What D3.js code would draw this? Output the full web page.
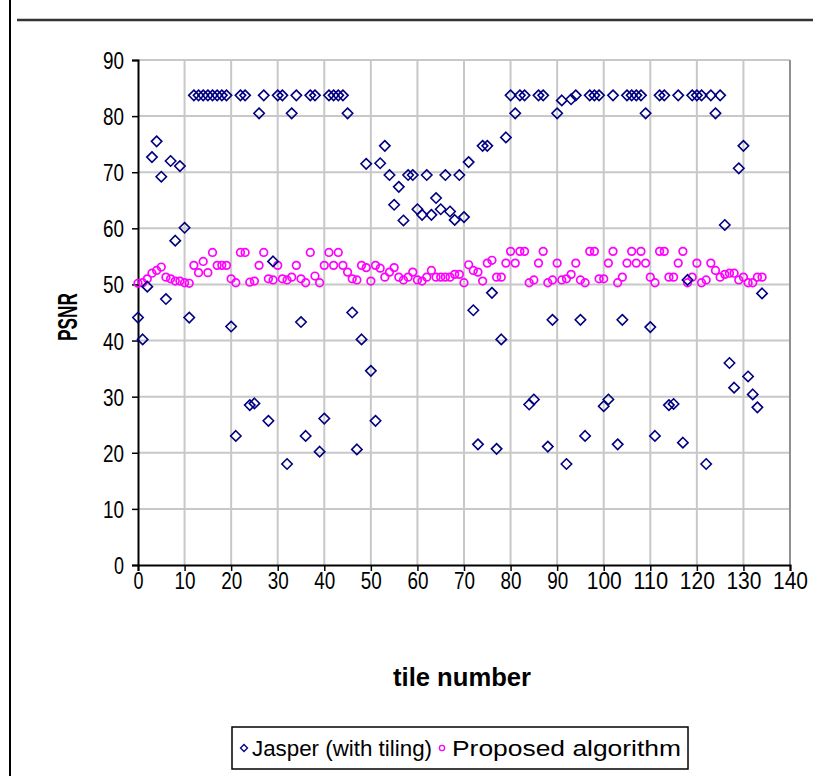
<!DOCTYPE html>
<html><head><meta charset="utf-8">
<script src="https://cdn.jsdelivr.net/npm/d3@7"></script>
<style>
html,body{margin:0;padding:0;background:#fff;}
svg{display:block;font-family:"Liberation Sans",Arial,sans-serif;}
</style></head>
<body>
<svg id="chart" width="813" height="776"></svg>
<script>
// ---- data ----
const seriesNames = ["Jasper (with tiling)", "Proposed algorithm"];
const jasper = [
 44.1,40.2,49.6,72.7,75.5,69.2,47.4,72.0,57.8,71.1,
 60.1,44.1,83.7,83.7,83.7,83.7,83.7,83.7,83.7,83.7,
 42.5,23.0,83.7,83.7,28.5,28.8,80.5,83.7,25.7,54.1,
 83.7,83.7,18.0,80.5,83.7,43.3,23.0,83.7,83.7,20.2,
 26.1,83.7,83.7,83.7,83.7,80.5,45.0,20.6,40.2,71.5,
 34.6,25.7,71.6,74.7,69.5,64.2,67.4,61.4,69.5,69.5,
 63.4,62.4,69.5,62.4,65.4,63.4,69.5,63.0,61.5,69.5,
 62.0,71.8,45.4,21.5,74.7,74.7,48.5,20.7,40.2,76.2,
 83.7,80.5,83.7,83.7,28.6,29.5,83.7,83.7,21.1,43.7,
 80.5,82.8,18.0,83.0,83.7,43.7,23.0,83.7,83.7,83.7,
 28.3,29.5,83.7,21.5,43.7,83.7,83.7,83.7,83.7,80.5,
 42.4,23.0,83.7,83.7,28.5,28.7,83.7,21.8,50.8,83.7,
 83.7,83.7,18.0,83.7,80.5,83.7,60.6,36.0,31.6,70.7,
 74.7,33.6,30.4,28.1,48.4
];
const proposed = [
 50.2,50.3,51.0,52.0,52.5,53.1,51.3,51.0,50.6,50.6,
 50.3,50.2,53.4,52.1,54.1,52.1,55.7,53.4,53.4,53.4,
 51.0,50.3,55.7,55.7,50.4,50.6,53.4,55.7,51.0,50.8,
 53.4,51.0,50.8,51.3,53.4,51.0,50.3,55.7,51.5,50.3,
 53.4,55.7,53.4,55.7,53.4,52.2,51.0,50.8,53.4,53.0,
 50.6,53.4,52.9,51.3,52.2,53.0,51.3,50.8,51.3,52.2,
 50.8,50.6,51.3,52.5,51.3,51.3,51.3,51.3,51.8,51.8,
 50.3,53.5,52.5,52.2,50.6,53.8,54.3,51.3,51.3,53.8,
 55.9,53.8,55.9,55.9,50.3,50.8,53.8,55.9,50.3,50.8,
 53.8,50.8,51.0,51.8,53.8,50.8,50.3,55.9,55.9,51.0,
 51.0,53.8,55.9,50.3,51.3,53.8,55.9,53.8,55.9,53.8,
 51.3,50.3,55.9,55.9,51.3,51.3,53.8,55.9,50.3,51.3,
 53.8,50.3,50.8,53.8,52.5,51.3,51.8,52.0,52.0,50.8,
 51.3,50.3,50.3,51.3,51.3
];
const xTicks = [0,10,20,30,40,50,60,70,80,90,100,110,120,130,140];
const yTicks = [0,10,20,30,40,50,60,70,80,90];
const xTitle = "tile number";
const yTitle = "PSNR";

// ---- drawing ----
const svg = d3.select("#chart");
const L = 138, R = 790, T = 60, B = 565;
const x = d3.scaleLinear().domain([0,140]).range([L,R]);
const y = d3.scaleLinear().domain([0,90]).range([B,T]);

// frame lines
svg.append("line").attr("x1",10).attr("x2",10).attr("y1",0).attr("y2",776)
  .attr("stroke","#000").attr("stroke-width",2);
svg.append("line").attr("x1",17).attr("x2",813).attr("y1",20).attr("y2",20)
  .attr("stroke","#333").attr("stroke-width",2.5);

// grid
const g = svg.append("g");
g.selectAll("line.hg").data(yTicks.slice(1)).enter().append("line")
  .attr("x1",L).attr("x2",R).attr("y1",d=>y(d)).attr("y2",d=>y(d))
  .attr("stroke","#c8c8c8").attr("stroke-width",2);
g.selectAll("line.vg").data(xTicks.slice(1)).enter().append("line")
  .attr("x1",d=>x(d)).attr("x2",d=>x(d)).attr("y1",T).attr("y2",B)
  .attr("stroke","#c8c8c8").attr("stroke-width",2);
g.append("line").attr("x1",R).attr("x2",R).attr("y1",T).attr("y2",B)
  .attr("stroke","#909090").attr("stroke-width",2);

// axes
const labW = d => { const n = String(d).length; return n === 3 ? 35 : n === 2 ? 21 : 10; };
const xAxis = d3.axisBottom(x).tickValues(xTicks).tickSize(6).tickFormat(d3.format("d"));
const yAxis = d3.axisLeft(y).tickValues(yTicks).tickSize(6).tickFormat(d3.format("d"));
const gx = svg.append("g").attr("transform",`translate(0,${B})`).call(xAxis);
const gy = svg.append("g").attr("transform",`translate(${L},0)`).call(yAxis);
[gx,gy].forEach(a=>{
  a.select(".domain").attr("stroke","#000").attr("stroke-width",2);
  a.selectAll(".tick line").attr("stroke","#000").attr("stroke-width",1.5);
  a.selectAll(".tick text").attr("fill","#000").style("font-size","24px")
   .style("font-family","'Liberation Sans',Arial,sans-serif")
   .attr("textLength", d=>labW(d)).attr("lengthAdjust","spacingAndGlyphs");
});
gx.selectAll(".tick text").attr("y",24).attr("dy",0);
gy.selectAll(".tick text").attr("x",-14).attr("dy",0).attr("y",8.5);

// titles
svg.append("text").attr("x",462).attr("y",686).attr("text-anchor","middle")
  .style("font-size","25px").style("font-weight","bold")
  .attr("textLength",138).attr("lengthAdjust","spacingAndGlyphs").text(xTitle);
svg.append("text").attr("transform","translate(77,317) rotate(-90)").attr("text-anchor","middle")
  .style("font-size","27px").style("font-weight","bold")
  .attr("textLength",48).attr("lengthAdjust","spacingAndGlyphs").text(yTitle);

// markers
const diamond = (cx,cy,s)=>`M${cx},${cy-s}L${cx+s},${cy}L${cx},${cy+s}L${cx-s},${cy}Z`;
svg.append("g").selectAll("circle").data(proposed).enter().append("circle")
  .attr("cx",(d,i)=>x(i)).attr("cy",d=>y(d)).attr("r",3.8)
  .attr("fill","none").attr("stroke","#ff00ff").attr("stroke-width",1.7);
svg.append("g").selectAll("path").data(jasper).enter().append("path")
  .attr("d",(d,i)=>diamond(x(i),y(d),5.2))
  .attr("fill","none").attr("stroke","#000080").attr("stroke-width",1.6);

// legend
const lg = svg.append("g");
lg.append("rect").attr("x",232).attr("y",727).attr("width",456).attr("height",42)
  .attr("fill","#fff").attr("stroke","#000").attr("stroke-width",1.5);
lg.append("path").attr("d",diamond(244,748,3.5)).attr("fill","none").attr("stroke","#000080").attr("stroke-width",1.3);
lg.append("text").attr("x",252).attr("y",756).style("font-size","22px")
  .attr("textLength",180).attr("lengthAdjust","spacingAndGlyphs").text(seriesNames[0]);
lg.append("circle").attr("cx",442).attr("cy",748).attr("r",2.6).attr("fill","none").attr("stroke","#ff00ff").attr("stroke-width",1.3);
lg.append("text").attr("x",452).attr("y",756).style("font-size","22px")
  .attr("textLength",229).attr("lengthAdjust","spacingAndGlyphs").text(seriesNames[1]);
</script>
</body></html>
